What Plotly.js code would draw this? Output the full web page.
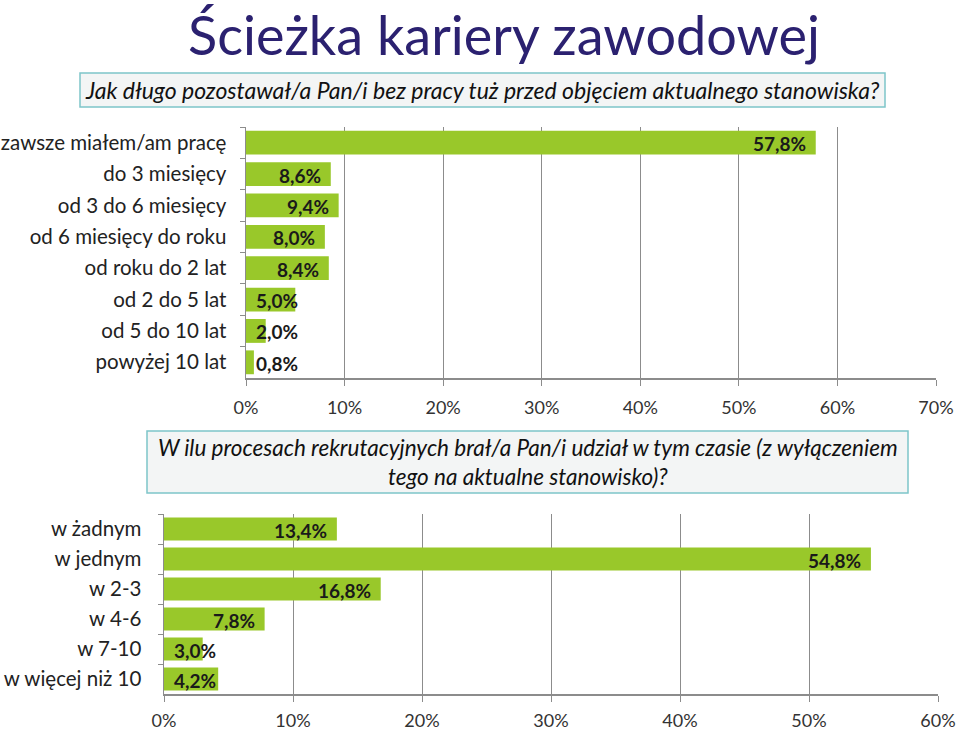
<!DOCTYPE html>
<html><head><meta charset="utf-8">
<script src="https://cdn.plot.ly/plotly-3.0.1.min.js"></script>
<style>html,body{margin:0;padding:0;background:#fff}#c{width:960px;height:730px}</style>
</head><body><div id="c"></div>
<script>
// Data
const catsTop = ["zawsze miałem/am pracę","do 3 miesięcy","od 3 do 6 miesięcy","od 6 miesięcy do roku","od roku do 2 lat","od 2 do 5 lat","od 5 do 10 lat","powyżej 10 lat"];
const valsTop = [57.8, 8.6, 9.4, 8.0, 8.4, 5.0, 2.0, 0.8];
const catsBot = ["w żadnym","w jednym","w 2-3","w 4-6","w 7-10","w więcej niż 10"];
const valsBot = [13.4, 54.8, 16.8, 7.8, 3.0, 4.2];
const titleText = "Ścieżka kariery zawodowej";
const q1 = "Jak długo pozostawał/a Pan/i bez pracy tuż przed objęciem aktualnego stanowiska?";
const q2 = "W ilu procesach rekrutacyjnych brał/a Pan/i udział w tym czasie (z wyłączeniem<br>tego na aktualne stanowisko)?";

const FONT = "Lato, 'Open Sans', sans-serif";
const GREEN = "#99c82a";

const fmt = v => v.toFixed(1).replace(".", ",") + "%";

const traces = [
  {type:"bar", orientation:"h", y:catsTop, x:valsTop, xaxis:"x", yaxis:"y",
   marker:{color:GREEN}, hoverinfo:"skip", showlegend:false},
  {type:"bar", orientation:"h", y:catsBot, x:valsBot, xaxis:"x2", yaxis:"y2",
   marker:{color:GREEN}, hoverinfo:"skip", showlegend:false}
];

const annotations = [];
// Labels sit at the inner end of each bar; when the bar is too short the label
// starts just right of the axis (as Excel does).
function labels(cats, vals, xr, yr, minV) {
  cats.forEach((c, i) => {
    const v = vals[i];
    const small = v < minV;
    annotations.push({x: small ? 0 : v, y: c, xref: xr, yref: yr, text: "<b>" + fmt(v) + "</b>",
      showarrow:false, xanchor: small ? "left" : "right", yanchor:"middle", xshift: small ? 8 : -8, yshift:-1,
      font:{family:FONT, size:19, color:"#1a1a1a"}});
  });
}
labels(catsTop, valsTop, "x", "y", 6.0);
labels(catsBot, valsBot, "x2", "y2", 4.7);

annotations.push({x:504/960, y:1-34/730, xref:"paper", yref:"paper", text:titleText, showarrow:false,
  xanchor:"center", yanchor:"middle", font:{family:FONT, size:54, color:"#2b2170"}});
annotations.push({x:(80+885)/2/960, y:1-90/730, xref:"paper", yref:"paper", text:"<i>"+q1+"</i>", showarrow:false,
  xanchor:"center", yanchor:"middle", font:{family:FONT, size:23, color:"#111"}});
annotations.push({x:(147+908)/2/960, y:1-462/730, xref:"paper", yref:"paper", text:"<i>"+q2+"</i>", showarrow:false,
  xanchor:"center", yanchor:"middle", font:{family:FONT, size:22.5, color:"#111"}});

const shapes = [
  {type:"rect", xref:"paper", yref:"paper", x0:80/960, x1:885/960, y0:1-107/730, y1:1-73/730,
   fillcolor:"#f3f5f5", line:{color:"#7ec5c9", width:1.5}, layer:"below"},
  {type:"rect", xref:"paper", yref:"paper", x0:147/960, x1:908/960, y0:1-493/730, y1:1-431/730,
   fillcolor:"#f3f5f5", line:{color:"#7ec5c9", width:1.5}, layer:"below"}
];

const axX = (dom, maxV, anchor, standoff) => ({domain:dom, range:[0,maxV], anchor:anchor, tickvals:[...Array(maxV/10+1).keys()].map(k=>k*10),
  ticktext:[...Array(maxV/10+1).keys()].map(k=>k*10+"%"), showgrid:true, gridcolor:"#8c8c8c", gridwidth:1,
  showline:true, linecolor:"#8c8c8c", linewidth:1.5, ticks:"outside", ticklen:6, tickcolor:"#8c8c8c",
  ticklabelstandoff:standoff, tickfont:{family:FONT, size:18, color:"#333"}, zeroline:false, fixedrange:true});
const axY = (dom, cats, anchor, standoff) => ({domain:dom, anchor:anchor, type:"category", autorange:"reversed",
  categoryorder:"array", categoryarray:cats, showline:true, linecolor:"#8c8c8c", linewidth:1.5,
  ticks:"outside", tickson:"boundaries", ticklen:5, tickcolor:"#8c8c8c", ticklabelstandoff:standoff,
  tickfont:{family:FONT, size:20.5, color:"#222"}, showgrid:false, fixedrange:true});

const layout = {
  width:960, height:730, margin:{l:0,r:0,t:0,b:0}, paper_bgcolor:"#fff", plot_bgcolor:"rgba(0,0,0,0)",
  bargap:0.24, showlegend:false,
  xaxis: axX([246/960, 936/960], 70, "y", 7),
  yaxis: axY([1-378/730, 1-127/730], catsTop, "x", 14),
  xaxis2: axX([164/960, 938/960], 60, "y2", 4),
  yaxis2: axY([1-694/730, 1-514/730], catsBot, "x2", 17),
  annotations: annotations, shapes: shapes
};

Plotly.newPlot("c", traces, layout, {staticPlot:true});
</script></body></html>
